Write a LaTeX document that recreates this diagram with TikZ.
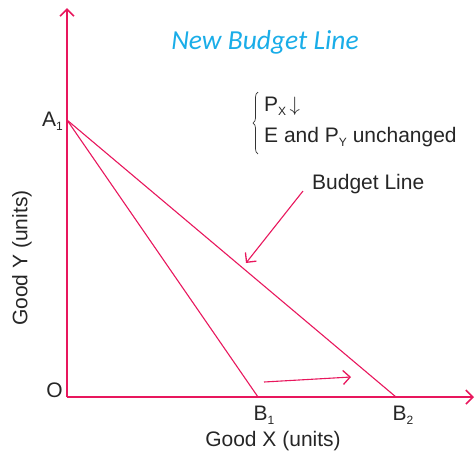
\documentclass[tikz,border=0pt]{standalone}
\usepackage{fontspec}
\setmainfont{Liberation Sans}
\newfontfamily\titlefont{Carlito}
\usetikzlibrary{arrows.meta,decorations.pathreplacing}
\definecolor{lred}{HTML}{E8175D}
\definecolor{lcyan}{HTML}{1AADE8}
\newcommand{\lsub}[1]{\raisebox{-0.35ex}{\fontsize{12}{12}\selectfont #1}}
\tikzset{
  axis/.style={draw=lred,line width=1.6pt,-{Straight Barb[length=7pt,width=14pt,line width=1.6pt]}},
  bline/.style={draw=lred,line width=1.1pt},
  pointer/.style={draw=lred,line width=1.1pt,-{Straight Barb[length=7pt,width=14pt,line width=1.3pt]}},
  lbl/.style={font=\fontsize{21}{24}\selectfont,text=black!85,inner sep=0pt}
}
\begin{document}
\begin{tikzpicture}[x=1pt,y=-1pt]
\useasboundingbox (0,0) rectangle (476,456);
\coordinate (O) at (67,397);
\coordinate (Ytop) at (67,8);
\coordinate (Xend) at (474,397);
\coordinate (A1) at (67,120);
\coordinate (B1) at (258,397);
\coordinate (B2) at (396,397);
\draw[axis] (O) -- (Ytop);
\draw[axis] (O) -- (Xend);
\draw[bline] (A1) -- (B1);
\draw[bline] (A1) -- (B2);
\coordinate (s1) at (264,382);
\coordinate (s2) at (351,377);
\draw[pointer] (s1) -- (s2);
\coordinate (p1) at (303,191);
\coordinate (p2) at (246,263);
\draw[pointer] (p1) -- (p2);
\node[lbl,anchor=east] (a1) at (63,121) {A\lsub{1}};
\node[lbl,anchor=east] (o) at (63,390) {O};
\node[lbl] (b1) at (264,415) {B\lsub{1}};
\node[lbl] (b2) at (403,415) {B\lsub{2}};
\node[lbl] (gx) at (273,441) {Good X (units)};
\node[lbl,rotate=90] (gy) at (22,258) {Good Y (units)};
\node[lbl,anchor=west] (bl) at (312,184) {Budget Line};
\node[font=\titlefont\itshape\fontsize{27.5}{30}\selectfont,text=lcyan,inner sep=0pt] (nbl) at (265,42) {New Budget Line};
\node[lbl,anchor=west] (px) at (264,106) {P\lsub{X}\,$\downarrow$};
\node[lbl,anchor=west] (ep) at (264,137) {E and P\lsub{Y} unchanged};
\draw[line width=0.7pt,black!80,decorate,decoration={brace,amplitude=5pt,mirror}] (258,92) -- (258,154);
\end{tikzpicture}
\end{document}
